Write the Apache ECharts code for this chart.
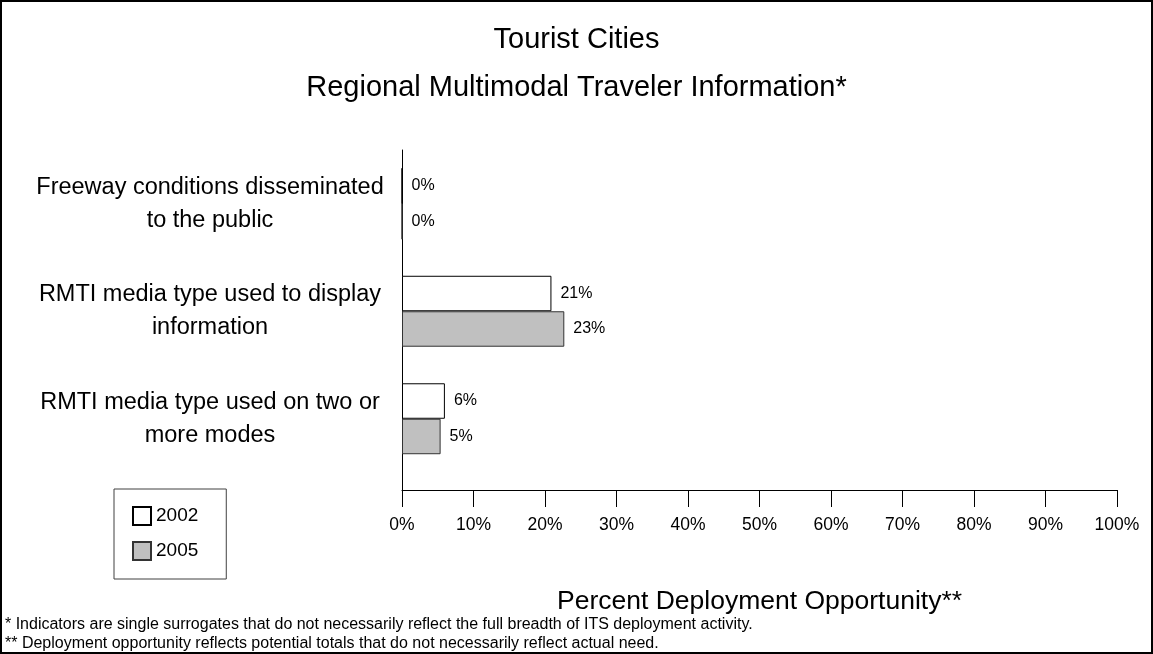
<!DOCTYPE html>
<html>
<head>
<meta charset="utf-8">
<script src="https://cdn.jsdelivr.net/npm/echarts@6/dist/echarts.min.js"></script>
<style>
html,body{margin:0;padding:0;background:#fff;}
#chart{width:1153px;height:654px;}
</style>
</head>
<body>
<div id="chart"></div>
<script>
const categories = [
  'Freeway conditions disseminated\nto the public',
  'RMTI media type used to display\ninformation',
  'RMTI media type used on two or\nmore modes'
];
const seriesNames = ['2002', '2005'];
const values2002 = [0, 20.9, 6.0];
const values2005 = [0, 22.7, 5.4];
const xTicks = [0, 10, 20, 30, 40, 50, 60, 70, 80, 90, 100];
const titleLine1 = 'Tourist Cities';
const titleLine2 = 'Regional Multimodal Traveler Information*';
const axisName = 'Percent Deployment Opportunity**';
const footnote1 = '* Indicators are single surrogates that do not necessarily reflect the full breadth of ITS deployment activity.';
const footnote2 = '** Deployment opportunity reflects potential totals that do not necessarily reflect actual need.';

const FONT = "'Liberation Sans', Arial, sans-serif";
const chart = echarts.init(document.getElementById('chart'), null, {renderer: 'canvas'});

const barLabel = {
  show: true, position: 'right', distance: 9,
  color: '#000', fontSize: 16, fontFamily: FONT,
  formatter: p => Math.round(p.value) + '%'
};

const option = {
  backgroundColor: '#fff',
  animation: false,
  textStyle: {fontFamily: FONT, color: '#000'},
  graphic: [{
    type: 'rect', silent: true,
    shape: {x: 1, y: 1, width: 1151, height: 652},
    style: {fill: 'none', stroke: '#000', lineWidth: 2}
  }],
  title: [
    {text: titleLine1, left: 'center', top: 25, padding: 0,
     textStyle: {fontSize: 29, fontWeight: 'normal', color: '#000', fontFamily: FONT}},
    {text: titleLine2, left: 'center', top: 73, padding: 0,
     textStyle: {fontSize: 29, fontWeight: 'normal', color: '#000', fontFamily: FONT}},
    {text: footnote1, left: 5, top: 617, padding: 0,
     textStyle: {fontSize: 16, fontWeight: 'normal', color: '#000', fontFamily: FONT}},
    {text: footnote2, left: 5, top: 636, padding: 0,
     textStyle: {fontSize: 16, fontWeight: 'normal', color: '#000', fontFamily: FONT}}
  ],
  legend: {
    data: seriesNames,
    orient: 'vertical', left: 114, top: 489,
    padding: [17, 28, 18, 18],
    itemWidth: 18, itemHeight: 18, itemGap: 15,
    icon: 'rect',
    borderColor: '#404040', borderWidth: 1,
    textStyle: {fontSize: 19, color: '#000', fontFamily: FONT}
  },
  grid: [
    {left: 402, right: 36, top: 150, height: 322.5},
    {left: 402, right: 36, top: 150, height: 340}
  ],
  xAxis: [
    {gridIndex: 0, type: 'value', min: 0, max: 100, show: false},
    {gridIndex: 1, type: 'value', min: 0, max: 100, interval: 10,
     axisLine: {show: true, lineStyle: {color: '#000', width: 1}},
     axisTick: {show: true, length: 17, lineStyle: {color: '#000'}},
     splitLine: {show: false},
     axisLabel: {margin: 26, fontSize: 17.5, color: '#000', fontFamily: FONT,
       formatter: v => xTicks.indexOf(v) >= 0 ? v + '%' : ''},
     name: axisName, nameLocation: 'middle', nameGap: 98,
     nameTextStyle: {fontSize: 26.5, color: '#000', fontFamily: FONT}}
  ],
  yAxis: [
    {gridIndex: 0, type: 'category', data: categories, inverse: true,
     axisLine: {show: false}, axisTick: {show: false},
     axisLabel: {align: 'center', margin: 192, fontSize: 23.5, lineHeight: 33,
       color: '#000', fontFamily: FONT}},
    {gridIndex: 1, type: 'value', min: 0, max: 1,
     axisLine: {show: true, lineStyle: {color: '#000', width: 1}},
     axisTick: {show: false}, axisLabel: {show: false}, splitLine: {show: false}}
  ],
  series: [
    {name: seriesNames[0], type: 'bar', xAxisIndex: 0, yAxisIndex: 0,
     data: values2002, barWidth: '33%', barGap: '0%',
     itemStyle: {color: '#ffffff', borderColor: '#000', borderWidth: 1},
     label: barLabel},
    {name: seriesNames[1], type: 'bar', xAxisIndex: 0, yAxisIndex: 0,
     data: values2005, barWidth: '33%', barGap: '0%',
     itemStyle: {color: '#c0c0c0', borderColor: '#333', borderWidth: 1},
     label: barLabel}
  ]
};
chart.setOption(option);
</script>
</body>
</html>
